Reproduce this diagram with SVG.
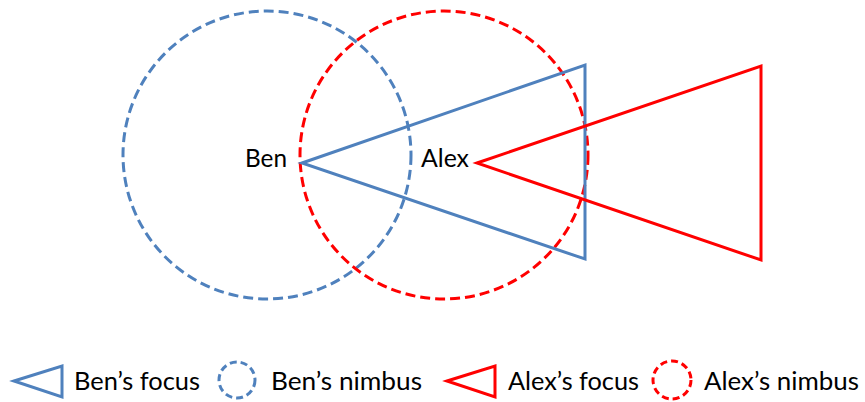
<svg xmlns="http://www.w3.org/2000/svg" width="865" height="402" viewBox="0 0 865 402">
<style>
.blue{stroke:#4F81BD;fill:none;stroke-width:3}
.red{stroke:#FF0000;fill:none;stroke-width:3}
.dash{stroke-dasharray:10 5}
.sdash{stroke-dasharray:7 4}
text{font-family:Lato,"Liberation Sans",sans-serif;font-size:25px;fill:#000}
</style>
<rect width="865" height="402" fill="#fff"/>
<g id="ben-nimbus"><circle class="blue dash" cx="267" cy="155" r="144"/></g>
<g id="alex-nimbus"><circle class="red dash" cx="444" cy="155" r="144"/></g>
<g id="ben-focus"><polygon class="blue" points="302,163 585,65 585,259"/></g>
<g id="alex-focus"><polygon class="red" points="477,163 761,66 761,260"/></g>
<g id="ben"><text x="245" y="167" textLength="42" lengthAdjust="spacingAndGlyphs">Ben</text></g>
<g id="alex"><text x="421" y="167" textLength="48" lengthAdjust="spacingAndGlyphs">Alex</text></g>
<g id="legend">
<polygon class="blue" points="14,381 62,366 62,397"/>
<text x="74" y="390" textLength="126" lengthAdjust="spacingAndGlyphs">Ben’s focus</text>
<circle class="blue sdash" cx="237" cy="380" r="18"/>
<text x="271" y="390" textLength="151" lengthAdjust="spacingAndGlyphs">Ben’s nimbus</text>
<polygon class="red" points="447,381 495,366 495,397"/>
<text x="508" y="390" textLength="131" lengthAdjust="spacingAndGlyphs">Alex’s focus</text>
<circle class="red sdash" cx="672" cy="380" r="19"/>
<text x="704" y="390" textLength="155" lengthAdjust="spacingAndGlyphs">Alex’s nimbus</text>
</g>
<g id="connectors"></g>
</svg>
